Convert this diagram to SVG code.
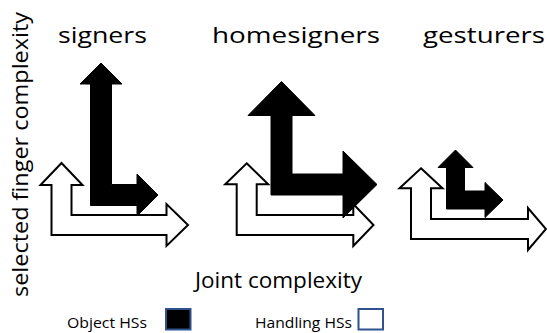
<svg xmlns="http://www.w3.org/2000/svg" width="547" height="333" viewBox="0 0 547 333">
<style>
text{font-family:"Open Sans","Noto Sans","Liberation Sans",sans-serif;fill:#000}
.t{font-size:21px}
.l{font-size:15px}
.w{fill:#fff;stroke:#000;stroke-width:2;stroke-linejoin:miter}
.b{fill:#000;stroke:#000;stroke-width:1}
</style>
<rect width="547" height="333" fill="#fff"/>
<g id="labels">
<text class="t" x="58" y="43" textLength="89" lengthAdjust="spacingAndGlyphs">signers</text>
<text class="t" x="212" y="43" textLength="168" lengthAdjust="spacingAndGlyphs">homesigners</text>
<text class="t" x="423" y="43" textLength="122" lengthAdjust="spacingAndGlyphs">gesturers</text>
<text class="t" transform="translate(28,297) rotate(-90)" x="0" y="0" textLength="285" lengthAdjust="spacingAndGlyphs">selected finger complexity</text>
<text class="t" x="195" y="288" textLength="167" lengthAdjust="spacingAndGlyphs">Joint complexity</text>
</g>
<g id="connectors">
<g id="signers-handling"><path class="w" d="M61.5,163 L82.5,185 L71.5,185 L71.5,215 L166.5,215 L166.5,204 L188,225 L166.5,246 L166.5,235 L51.5,235 L51.5,185 L40.5,185 Z"/></g>
<g id="signers-object"><path class="b" d="M101,63 L122,84 L111.5,84 L111.5,184.5 L137,184.5 L137,174 L158,195 L137,216 L137,205.5 L90.5,205.5 L90.5,84 L80,84 Z"/></g>
<g id="homesigners-handling"><path class="w" d="M246.7,163.3 L268.2,184.3 L256.7,184.3 L256.7,215 L353.3,215 L353.3,204 L373.5,225 L353.3,246 L353.3,235 L236.7,235 L236.7,184.3 L225.2,184.3 Z"/></g>
<g id="homesigners-object"><path class="b" d="M281.5,81.5 L315,115.5 L292,115.5 L292,174 L343,174 L343,151 L377,184.5 L343,218 L343,195 L271,195 L271,115.5 L248,115.5 Z"/></g>
<g id="gesturers-handling"><path class="w" d="M421,168.3 L442.5,188.3 L431,188.3 L431,219 L528,219 L528,208 L546,229 L528,250 L528,239 L411,239 L411,188.3 L399.5,188.3 Z"/></g>
<g id="gesturers-object"><path class="b" d="M455.5,150 L473,167.5 L464.5,167.5 L464.5,191 L485,191 L485,182.5 L503,200 L485,217.5 L485,209 L446.5,209 L446.5,167.5 L438,167.5 Z"/></g>
</g>
<g id="legend-object">
<text class="l" x="67" y="328" textLength="80" lengthAdjust="spacingAndGlyphs">Object HSs</text>
<rect x="166" y="309" width="24.5" height="20.5" fill="#000" stroke="#2F528F" stroke-width="2"/>
</g>
<g id="legend-handling">
<text class="l" x="255" y="328" textLength="97" lengthAdjust="spacingAndGlyphs">Handling HSs</text>
<rect x="358.5" y="309" width="24.5" height="20.5" fill="#fff" stroke="#2F528F" stroke-width="2"/>
</g>
</svg>
